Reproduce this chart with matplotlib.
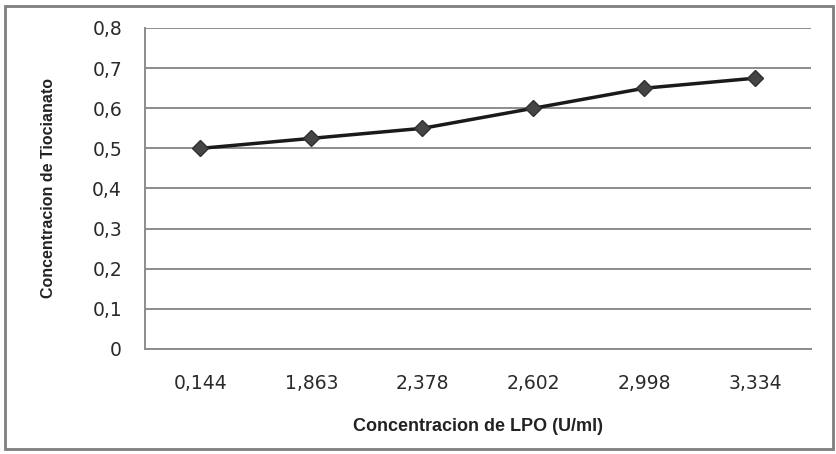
import matplotlib.pyplot as plt
from matplotlib.patches import Rectangle

# LPO concentration (U/ml) vs thiocyanate concentration
lpoLabels = ['0,144', '1,863', '2,378', '2,602', '2,998', '3,334']
tiocianato = [0.5, 0.525, 0.55, 0.6, 0.65, 0.675]
yTicks = [0, 0.1, 0.2, 0.3, 0.4, 0.5, 0.6, 0.7, 0.8]
yTickLabels = ['0', '0,1', '0,2', '0,3', '0,4', '0,5', '0,6', '0,7', '0,8']

fig = plt.figure(figsize=(8.37, 4.54), dpi=100)
ax = fig.add_axes([145/837, 1 - 349/454, 666/837, 321/454])

xPos = range(len(lpoLabels))
ax.plot(xPos, tiocianato, color='#1a1a1a', linewidth=2.5, zorder=3)
ax.plot(xPos, tiocianato, linestyle='none', marker='D', markersize=8,
        markerfacecolor='#454545', markeredgecolor='#303030', zorder=4)

ax.set_xlim(-0.5, len(lpoLabels) - 0.5)
ax.set_ylim(0, 0.8)
ax.set_xticks(list(xPos))
ax.set_xticklabels(lpoLabels, size=13.5, color='#2a2a2a')
ax.set_yticks(yTicks)
ax.set_yticklabels(yTickLabels, size=13.5, color='#2a2a2a')
ax.tick_params(length=0)
ax.tick_params(axis='x', pad=18)
ax.tick_params(axis='y', pad=16.5)

ax.grid(axis='y', color='#8c8c8c', linewidth=1.4)
ax.set_axisbelow(True)
for side in ['top', 'right']:
    ax.spines[side].set_visible(False)
for side in ['left', 'bottom']:
    ax.spines[side].set_color('#8c8c8c')
    ax.spines[side].set_linewidth(1.4)

ax.set_xlabel('Concentracion de LPO (U/ml)', family='Liberation Sans',
              weight='bold', size=13, color='#222222', labelpad=18)
ax.set_ylabel('Concentracion de Tiocianato', family='Liberation Sans',
              weight='bold', size=11.5, color='#222222', labelpad=26)

# grey frame round the whole chart
fig.patches.append(Rectangle((5/837, 5/454), 828/837, 443/454,
                             transform=fig.transFigure, fill=False,
                             edgecolor='#7f7f7f', linewidth=2))

fig.savefig('out.png', dpi=100)
